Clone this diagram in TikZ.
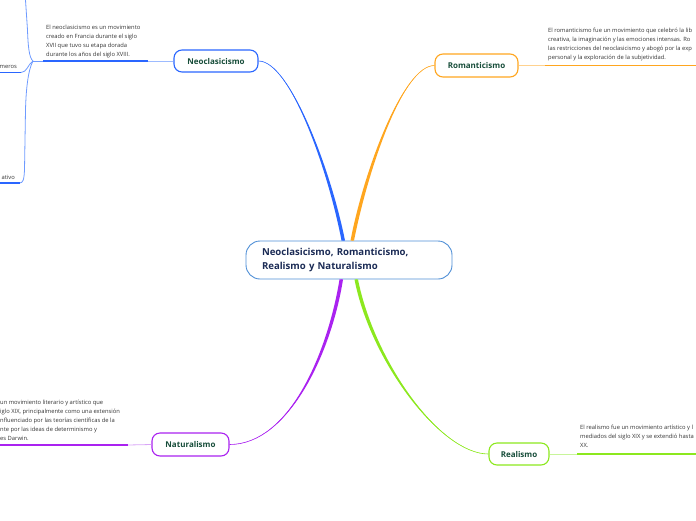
\documentclass[tikz,border=0pt]{standalone}
\usepackage{fontspec}
\setmainfont{Open Sans}
\usetikzlibrary{calc}
\definecolor{cblue}{HTML}{2A66FF}
\definecolor{cbluel}{HTML}{9DBBFF}
\definecolor{cbranch}{HTML}{6F9BFF}
\definecolor{corange}{HTML}{FFA61F}
\definecolor{corangel}{HTML}{FFD28F}
\definecolor{cgreen}{HTML}{8CE81E}
\definecolor{cgreenl}{HTML}{C8F59A}
\definecolor{cpurple}{HTML}{AA22F0}
\definecolor{cpurplel}{HTML}{D9A6F7}
\definecolor{ccenter}{HTML}{4F8FD6}
\definecolor{topictext}{HTML}{174D3A}
\definecolor{centertext}{HTML}{1B2B55}
\definecolor{bodytext}{HTML}{333333}
\begin{document}
\begin{tikzpicture}[x=1pt,y=-1pt,
  topic/.style={draw, rounded corners=8pt, line width=1.1pt, fill=white,
    font=\fontsize{8}{9}\selectfont\bfseries, text=topictext, inner sep=0pt,
    minimum height=22pt},
  body/.style={font=\fontsize{5.8}{9}\selectfont, text=bodytext, align=left,
    inner sep=0pt, anchor=north west},
  thick line/.style={line width=1.8pt},
  thin line/.style={line width=0.8pt}]
\useasboundingbox (0,0) rectangle (696,520);
\clip (0,0) rectangle (696,520);

% nodes
\node[draw=ccenter, line width=0.9pt, fill=white, rounded corners=14pt,
  minimum width=206pt, minimum height=38pt, inner xsep=16pt, inner ysep=0pt,
  text width=174pt, align=left, text=centertext,
  font=\fontsize{9.6}{14}\selectfont\bfseries] (c) at (349,260)
  {Neoclasicismo, Romanticismo,\\Realismo y Naturalismo};
\node[topic, draw=cblue, minimum width=84pt] (neo) at (216,61) {Neoclasicismo};
\node[topic, draw=corange, minimum width=83pt, minimum height=23pt] (rom) at (476.5,65.5) {Romanticismo};
\node[topic, draw=cgreen, minimum width=60pt] (rea) at (519,454) {Realismo};
\node[topic, draw=cpurple, minimum width=77pt, minimum height=23pt] (nat) at (190.5,444.5) {Naturalismo};

% main tapered connectors
\fill[cblue] ($(c.north)+(-7.5,0)$) .. controls (328,170) and (290,61) .. (neo.east)
  .. controls (290,61) and (331,170) .. ($(c.north)+(-4,0)$) -- cycle;
\draw[cblue, line width=0.6pt] ($(c.north)+(-5.75,0)$) .. controls (329.5,170) and (290,61) .. (neo.east);
\fill[corange] ($(c.north)+(1.5,0)$) .. controls (364,170) and (403,65.5) .. (rom.west)
  .. controls (403,65.5) and (368,170) .. ($(c.north)+(5,0)$) -- cycle;
\draw[corange, line width=0.6pt] ($(c.north)+(3.25,0)$) .. controls (366,170) and (403,65.5) .. (rom.west);
\fill[cpurple] ($(c.south)+(-9.5,0)$) .. controls (328,350) and (290,444.5) .. (nat.east)
  .. controls (290,444.5) and (332,350) .. ($(c.south)+(-6,0)$) -- cycle;
\draw[cpurple, line width=0.6pt] ($(c.south)+(-7.75,0)$) .. controls (330,350) and (290,444.5) .. (nat.east);
\fill[cgreen] ($(c.south)+(5.5,0)$) .. controls (370,360) and (440,454) .. (rea.west)
  .. controls (440,454) and (374,360) .. ($(c.south)+(9,0)$) -- cycle;
\draw[cgreen, line width=0.6pt] ($(c.south)+(7.25,0)$) .. controls (372,360) and (440,454) .. (rea.west);

% Neoclasicismo branch
\coordinate (neoA) at (148,61);
\coordinate (neoB) at (43,61);
\coordinate (neoJ) at (33,61);
\draw[cbluel, thin line] (neo.west) -- (neoA);
\draw[cblue, thick line] (neoA) -- (neoB);
\draw[cbranch, thin line] (neoB) -- (neoJ);
\node[body] (neotxt) at (46,24.5) {El neoclasicismo es un movimiento\\creado en Francia durante el siglo\\XVII que tuvo su etapa dorada\\durante los años del siglo XVIII.};

\coordinate (upEnd) at (25.5,0);
\draw[cbranch, thin line] (neoJ) .. controls (29,58) and (28,45) .. (27.5,30) -- (upEnd);
\coordinate (merA) at (21,72.5);
\coordinate (merB) at (0,72.5);
\draw[cbranch, thin line] (neoJ) .. controls (28,64) and (27,72.5) .. (merA);
\draw[cblue, thick line] (merA) -- (merB);
\node[font=\fontsize{5.8}{9}\selectfont, text=bodytext, inner sep=0pt, anchor=base east] (mer) at (17,68) {meros};
\coordinate (atiA) at (19.5,183);
\coordinate (atiB) at (0,183);
\draw[cbranch, thin line] (neoJ) .. controls (28,70) and (26,90) .. (25.5,110) -- (24.5,170) .. controls (24,180) and (23,183) .. (atiA);
\draw[cblue, thick line] (atiA) -- (atiB);
\node[font=\fontsize{5.8}{9}\selectfont, text=bodytext, inner sep=0pt, anchor=base east] (ati) at (15,179) {ativo};

% Romanticismo branch
\coordinate (romA) at (545,65.5);
\coordinate (romB) at (696,65.5);
\draw[corangel, thin line] (rom.east) -- (romA);
\draw[corange, thick line] (romA) -- (romB);
\node[body] (romtxt) at (548,27.5) {El romanticismo fue un movimiento que celebró la lib\\creativa, la imaginación y las emociones intensas. Ro\\las restricciones del neoclasicismo y abogó por la exp\\personal y la exploración de la subjetividad.};

% Realismo branch
\coordinate (reaA) at (577,454);
\coordinate (reaB) at (696,454);
\draw[cgreenl, thin line] (rea.east) -- (reaA);
\draw[cgreen, thick line] (reaA) -- (reaB);
\node[body] (reatxt) at (580,424.5) {El realismo fue un movimiento artístico y l\\mediados del siglo XIX y se extendió hasta\\XX.};

% Naturalismo branch
\coordinate (natA) at (128,445);
\coordinate (natB) at (0,445);
\draw[cpurplel, thin line] (nat.west) -- (natA);
\draw[cpurple, thick line] (natA) -- (natB);
\node[body] (nattxt) at (0,399.5) {un movimiento literario y artístico que\\iglo XIX, principalmente como una extensión\\nfluenciado por las teorías científicas de la\\nte por las ideas de determinismo y\\es Darwin.};
\end{tikzpicture}
\end{document}
